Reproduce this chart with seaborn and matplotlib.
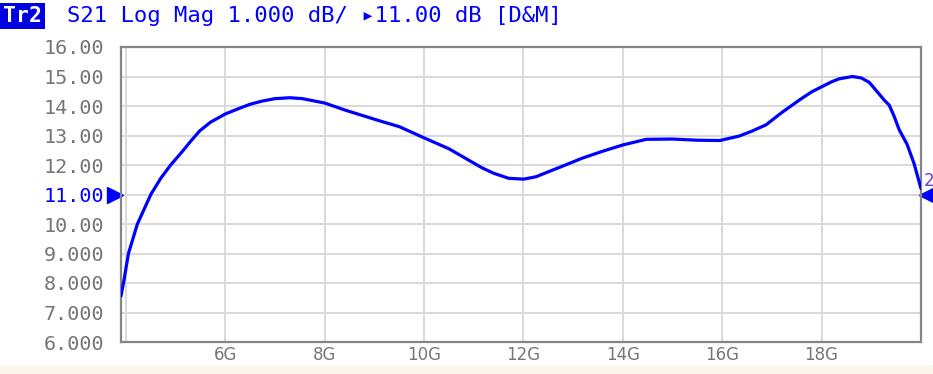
import numpy as np
import pandas as pd
import seaborn as sns
import matplotlib.pyplot as plt
import matplotlib.transforms as mtransforms

# S21 trace (GHz, dB)
freq_ghz = [3.9, 3.95, 4.05, 4.23, 4.5, 4.7, 4.9, 5.13, 5.3, 5.48, 5.7, 6.0, 6.25, 6.5,
            6.75, 7.0, 7.3, 7.55, 8.0, 8.43, 9.1, 9.5, 10.0, 10.5, 11.17, 11.4, 11.7,
            12.0, 12.25, 12.5, 12.8, 13.18, 13.6, 14.0, 14.47, 15.0, 15.5, 15.95,
            16.34, 16.6, 16.88, 17.2, 17.55, 17.8, 18.0, 18.2, 18.35, 18.62, 18.8,
            18.96, 19.16, 19.26, 19.36, 19.46, 19.56, 19.72, 19.86, 20.0]
s21_db = [7.56, 8.0, 9.0, 10.0, 11.0, 11.55, 12.0, 12.45, 12.8, 13.15, 13.45, 13.73, 13.9, 14.06,
          14.17, 14.25, 14.28, 14.25, 14.1, 13.85, 13.5, 13.3, 12.92, 12.55, 11.9, 11.72, 11.55,
          11.52, 11.6, 11.77, 11.97, 12.23, 12.47, 12.68, 12.87, 12.88, 12.84, 12.83,
          12.98, 13.15, 13.36, 13.78, 14.2, 14.48, 14.65, 14.82, 14.92, 15.0, 14.95,
          14.8, 14.4, 14.2, 14.03, 13.65, 13.2, 12.7, 12.05, 11.2]

y_ticks = [6, 7, 8, 9, 10, 11, 12, 13, 14, 15, 16]
y_labels = ["6.000", "7.000", "8.000", "9.000", "10.00", "11.00", "12.00",
            "13.00", "14.00", "15.00", "16.00"]
x_ticks = [6, 8, 10, 12, 14, 16, 18]
x_labels = ["6G", "8G", "10G", "12G", "14G", "16G", "18G"]
ref_level = 11.0

df = pd.DataFrame({"freq": freq_ghz, "s21": s21_db})

sns.set_theme(style="white")
plt.rcParams["font.family"] = ["DejaVu Sans Mono", "DejaVu Sans"]

blue = "#0000ff"
grey_txt = "#767676"

fig = plt.figure(figsize=(9.33, 3.74), dpi=100)
ax = fig.add_axes([121 / 933, 1 - 342 / 374, 800 / 933, 295 / 374])

sns.lineplot(data=df, x="freq", y="s21", color=blue, linewidth=2.3, ax=ax, zorder=3)

ax.set_xlim(3.9, 20)
ax.set_ylim(6, 16)
ax.set_xlabel("")
ax.set_ylabel("")

# grid
for yv in y_ticks[1:-1]:
    ax.axhline(yv, color="#d9d9d9", linewidth=1.4, zorder=1)
for xv in [4] + x_ticks:
    ax.axvline(xv, color="#d9d9d9", linewidth=1.4, zorder=1)

for s in ax.spines.values():
    s.set_color("#858585")
    s.set_linewidth(1.6)

ax.set_yticks(y_ticks)
ax.set_yticklabels(y_labels)
ax.set_xticks(x_ticks)
ax.set_xticklabels(x_labels, family="DejaVu Sans")
ax.tick_params(axis="y", length=0, pad=12, labelsize=14.5, labelcolor=grey_txt)
ax.tick_params(axis="x", length=0, pad=3, labelsize=12, labelcolor=grey_txt)
for lab in ax.get_yticklabels():
    if lab.get_text() == "11.00":
        lab.set_color(blue)

# reference level markers on both edges
trans = mtransforms.blended_transform_factory(ax.transAxes, ax.transData)
ax.plot([-0.007], [ref_level], marker=">", markersize=11, color=blue, transform=trans, clip_on=False)
ax.plot([1.007], [ref_level], marker="<", markersize=11, color=blue, transform=trans, clip_on=False)
ax.text(1.004, ref_level + 0.45, "2", transform=trans, color="#6a3cd0", fontsize=12,
        ha="left", va="center", family="DejaVu Sans")

# header line
fig.text(3 / 933, 1 - 16 / 374, "Tr2", color="white", fontsize=15.5, fontweight="bold",
         va="center", ha="left",
         bbox=dict(boxstyle="square,pad=0.15", facecolor="#0000e0", edgecolor="none"))
fig.text(67 / 933, 1 - 16 / 374, "S21 Log Mag 1.000 dB/ \u25b811.00 dB [D&M]",
         color=blue, fontsize=16, va="center", ha="left")

# light strip at the bottom
fig.patches.append(plt.Rectangle((0, 0), 1, 9 / 374, transform=fig.transFigure,
                                 facecolor="#fbf7ec", edgecolor="none", zorder=0))

fig.savefig("out.png", dpi=100)
